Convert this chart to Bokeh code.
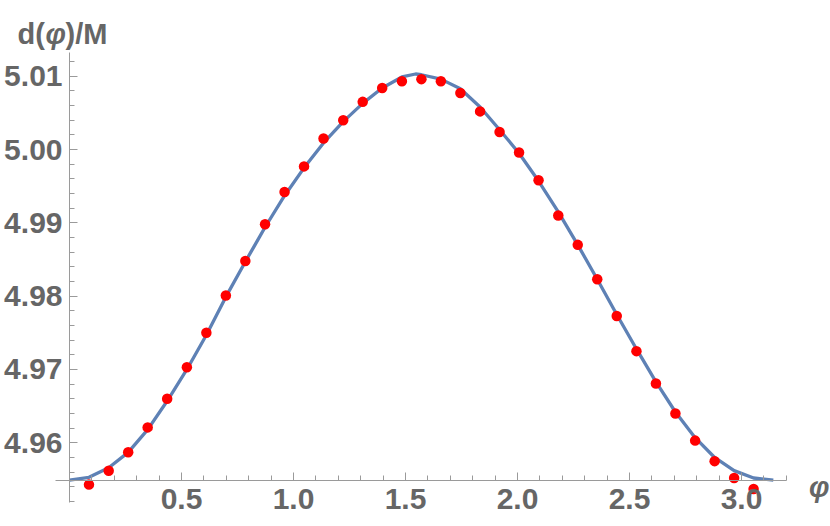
from bokeh.plotting import figure
from bokeh.models import ColumnDataSource, FixedTicker, NumeralTickFormatter, Label, Range1d
from bokeh.embed import file_html
from bokeh.resources import INLINE

# red sample points: phi and d(phi)/M
phi_pts = [0.087, 0.175, 0.262, 0.349, 0.436, 0.524, 0.611, 0.698, 0.785, 0.873,
           0.960, 1.047, 1.134, 1.222, 1.309, 1.396, 1.484, 1.571, 1.658, 1.745,
           1.833, 1.920, 2.007, 2.094, 2.182, 2.269, 2.356, 2.443, 2.531, 2.618,
           2.705, 2.793, 2.880, 2.967, 3.054]
d_pts = [4.9543, 4.9562, 4.9587, 4.9621, 4.9660, 4.9703, 4.9750, 4.9801, 4.9848, 4.9898,
         4.9942, 4.9977, 5.0015, 5.0040, 5.0065, 5.0084, 5.0093, 5.0096, 5.0093, 5.0077,
         5.0052, 5.0024, 4.9996, 4.9958, 4.9910, 4.9870, 4.9823, 4.9773, 4.9725, 4.9681,
         4.9640, 4.9603, 4.9575, 4.9552, 4.9537]

# blue curve
phi_curve = [0.000, 0.087, 0.175, 0.262, 0.349, 0.436, 0.524, 0.611, 0.698, 0.785,
             0.873, 0.960, 1.047, 1.134, 1.222, 1.309, 1.396, 1.484, 1.545, 1.571, 1.658,
             1.745, 1.833, 1.920, 2.007, 2.094, 2.182, 2.269, 2.356, 2.443, 2.531,
             2.618, 2.705, 2.793, 2.880, 2.967, 3.054, 3.142]
d_curve = [4.9549, 4.9553, 4.9566, 4.9587, 4.9618, 4.9657, 4.9700, 4.9747, 4.9799, 4.9847,
           4.9894, 4.9937, 4.9975, 5.0009, 5.0038, 5.0063, 5.0084, 5.0099, 5.0103, 5.0102, 5.0096,
           5.0083, 5.0058, 5.0027, 4.9995, 4.9957, 4.9915, 4.9870, 4.9823, 4.9775, 4.9728,
           4.9683, 4.9642, 4.9607, 4.9580, 4.9562, 4.9552, 4.9549]

x_major = [0.5, 1.0, 1.5, 2.0, 2.5, 3.0]
x_minor = [0.1, 0.2, 0.3, 0.4, 0.6, 0.7, 0.8, 0.9, 1.1, 1.2, 1.3, 1.4, 1.6, 1.7, 1.8, 1.9,
           2.1, 2.2, 2.3, 2.4, 2.6, 2.7, 2.8, 2.9, 3.1, 3.2]
y_major = [4.96, 4.97, 4.98, 4.99, 5.00, 5.01]
y_minor = [4.952, 4.954, 4.956, 4.958, 4.962, 4.964, 4.966, 4.968, 4.972, 4.974, 4.976, 4.978,
           4.982, 4.984, 4.986, 4.988, 4.992, 4.994, 4.996, 4.998, 5.002, 5.004, 5.006, 5.008,
           5.012]

x_origin = 0.0
y_origin = 4.9549
x_axis_extent = (-0.0625, 3.2005)
y_axis_extent = (4.9519, 5.0133)

GRAY = "#666666"
AXIS = "#9a9a9a"
FONT = "Liberation Sans"

p = figure(width=830, height=526, output_backend="svg", toolbar_location=None,
           title_location=None,
           x_range=Range1d(-0.30804, 3.39732), y_range=Range1d(4.948585, 5.020325),
           min_border=0, min_border_left=0, min_border_right=0,
           min_border_top=0, min_border_bottom=0)
p.outline_line_color = None
p.grid.visible = False
p.background_fill_color = "white"
p.border_fill_color = "white"

line_src = ColumnDataSource(dict(x=phi_curve, y=d_curve))
pt_src = ColumnDataSource(dict(x=phi_pts, y=d_pts))
p.line("x", "y", source=line_src, line_color="#5E81B5", line_width=3.3)
p.scatter("x", "y", source=pt_src, size=10.5, fill_color="#FF0000", line_color=None)

for ax in (p.xaxis[0], p.yaxis[0]):
    ax.axis_line_color = AXIS
    ax.major_tick_line_color = AXIS
    ax.minor_tick_line_color = AXIS
    ax.major_tick_in = 8
    ax.major_tick_out = 0
    ax.minor_tick_in = 5
    ax.minor_tick_out = 0
    ax.major_label_text_font = FONT
    ax.major_label_text_font_style = "bold"
    ax.major_label_text_font_size = "30px"
    ax.major_label_text_color = GRAY

p.xaxis[0].fixed_location = y_origin
p.yaxis[0].fixed_location = x_origin
p.xaxis[0].bounds = x_axis_extent
p.yaxis[0].bounds = y_axis_extent
p.xaxis[0].ticker = FixedTicker(ticks=x_major, minor_ticks=x_minor)
p.yaxis[0].ticker = FixedTicker(ticks=y_major, minor_ticks=y_minor)
p.xaxis[0].formatter = NumeralTickFormatter(format="0.0")
p.yaxis[0].formatter = NumeralTickFormatter(format="0.00")
p.xaxis[0].major_label_standoff = 9
p.yaxis[0].major_label_standoff = 7

# axis labels
lab_kw = dict(text_font=FONT, text_font_size="29px", text_color=GRAY,
              text_font_style="bold", text_baseline="alphabetic", text_align="left")
p.add_layout(Label(x=-0.2321, y=5.01578, text="d(", **lab_kw))
p.add_layout(Label(x=-0.1071, y=5.01578, text="\u03c6",
                   **{**lab_kw, "text_font_style": "bold italic"}))
p.add_layout(Label(x=-0.0179, y=5.01578, text=")/M", **lab_kw))
p.add_layout(Label(x=3.3929, y=4.95404, text="\u03c6",
                   **{**lab_kw, "text_font_style": "bold italic", "text_align": "right"}))

open("out.html", "w").write(file_html(p, INLINE))
